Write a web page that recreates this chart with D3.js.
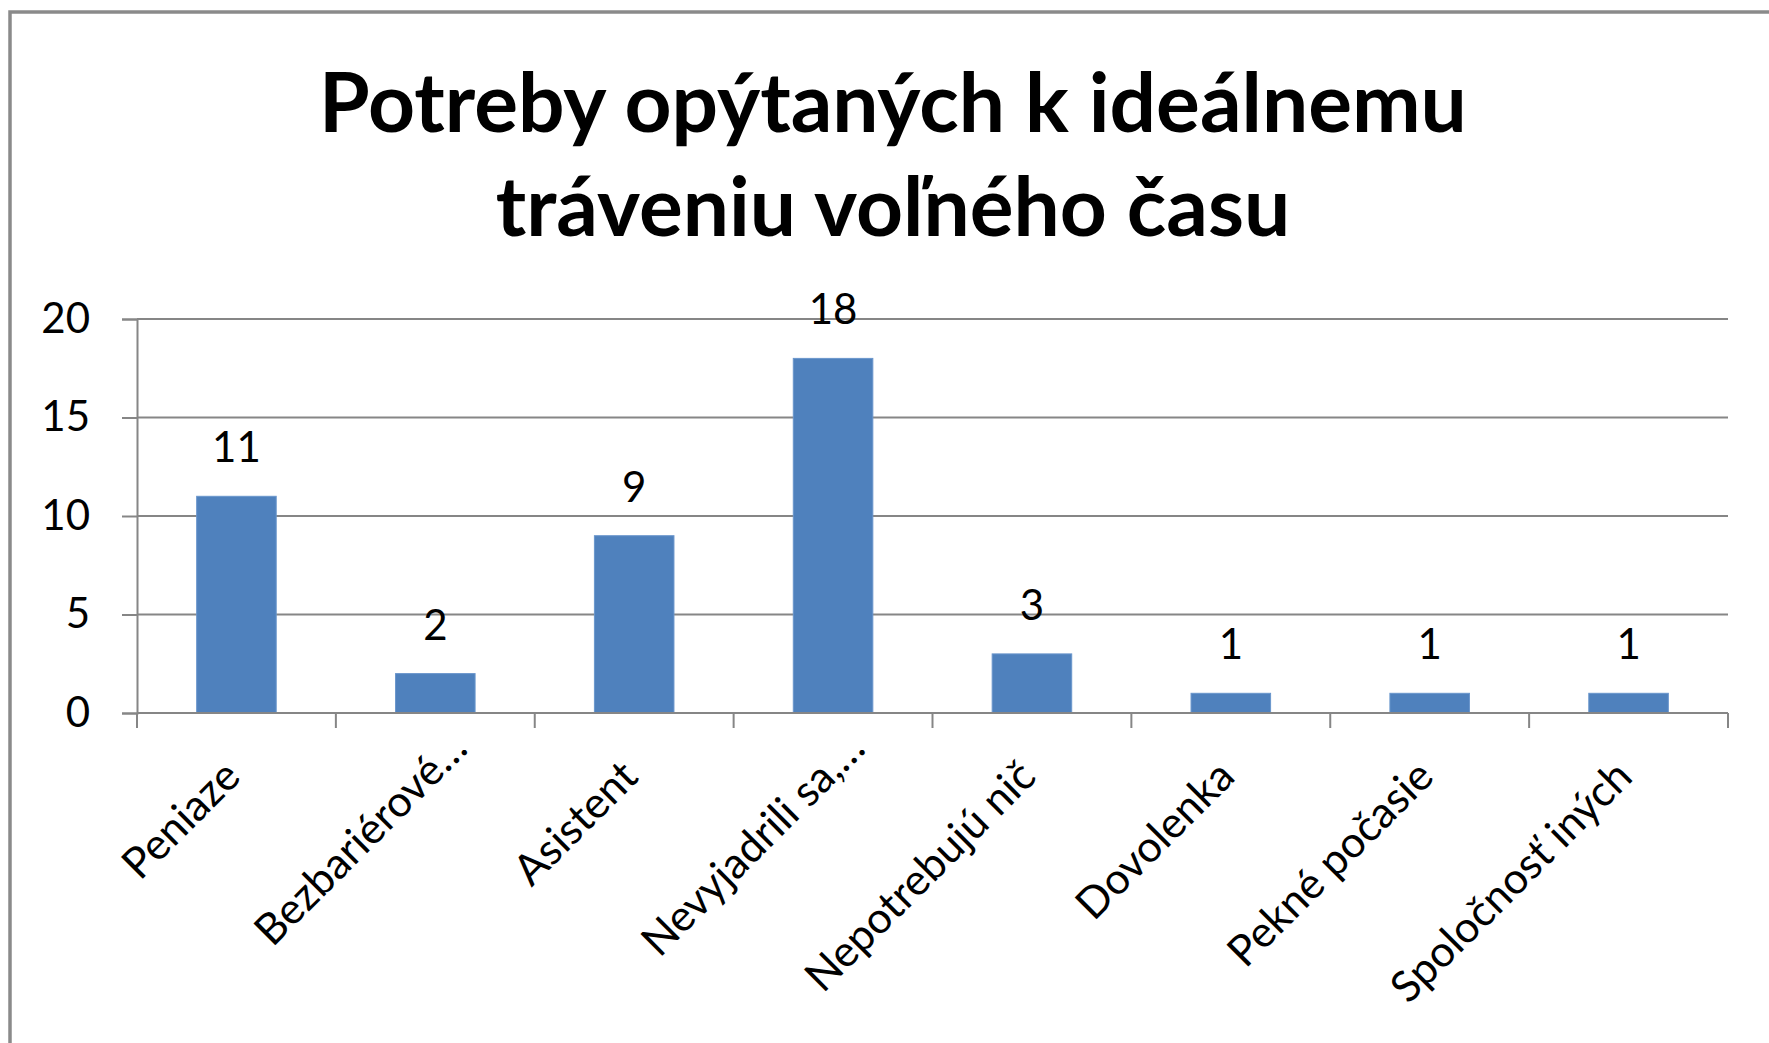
<!DOCTYPE html>
<html>
<head>
<meta charset="utf-8">
<script src="https://cdn.jsdelivr.net/npm/d3@7"></script>
<style>
  body { margin: 0; background: #fff; }
  svg { display: block; }
</style>
</head>
<body>
<div id="chart"></div>
<script>
// data
const categories = ['Peniaze', 'Bezbariérové…', 'Asistent', 'Nevyjadrili sa,…', 'Nepotrebujú nič', 'Dovolenka', 'Pekné počasie', 'Spoločnosť iných'];
const values = [11, 2, 9, 18, 3, 1, 1, 1];
const yTicks = [0, 5, 10, 15, 20];
const titleLines = ['Potreby opýtaných k ideálnemu', 'tráveniu voľného času'];

const width = 1769;
const height = 1043;
const plot = { left: 137, right: 1728, top: 319, bottom: 713 };
const gridColor = '#868686';
const barColor = '#4f81bd';
const font = 'Lato, "Open Sans", sans-serif';

const svg = d3.select('#chart').append('svg')
  .attr('width', width)
  .attr('height', height);

svg.append('rect')
  .attr('width', width)
  .attr('height', height)
  .attr('fill', '#fff');

// chart frame, only left/top edges fall inside the picture
svg.append('rect')
  .attr('x', 10)
  .attr('y', 12)
  .attr('width', width + 40)
  .attr('height', height + 40)
  .attr('fill', 'none')
  .attr('stroke', '#8a8a8a')
  .attr('stroke-width', 3.5);

// title
svg.append('text')
  .attr('x', 893)
  .attr('text-anchor', 'middle')
  .style('font-family', font)
  .style('font-weight', 'bold')
  .style('font-size', '82px')
  .attr('fill', '#000')
  .selectAll('tspan')
  .data(titleLines)
  .enter()
  .append('tspan')
  .attr('x', 893)
  .attr('y', (d, i) => 132 + i * 104)
  .text((d) => d);

const y = d3.scaleLinear()
  .domain([0, 20])
  .range([plot.bottom, plot.top]);

const x = d3.scaleBand()
  .domain(categories)
  .range([plot.left, plot.right])
  .paddingInner(0.6)
  .paddingOuter(0.3);

const edge = d3.scaleLinear()
  .domain([0, categories.length])
  .range([plot.left, plot.right]);

// gridlines
svg.append('g')
  .selectAll('line')
  .data(yTicks)
  .enter()
  .append('line')
  .attr('x1', plot.left)
  .attr('x2', plot.right)
  .attr('y1', (d) => y(d))
  .attr('y2', (d) => y(d))
  .attr('stroke', gridColor)
  .attr('stroke-width', 2);

// y axis
const yAxis = svg.append('g')
  .attr('transform', `translate(${plot.left},0)`)
  .call(d3.axisLeft(y).tickValues(yTicks).tickSize(15).tickPadding(32));

yAxis.select('.domain')
  .attr('stroke', gridColor)
  .attr('stroke-width', 2);
yAxis.selectAll('.tick line')
  .attr('stroke', gridColor)
  .attr('stroke-width', 2);
yAxis.selectAll('.tick text')
  .style('font-family', font)
  .style('font-size', '42px')
  .attr('fill', '#000');

// bars
svg.append('g')
  .selectAll('rect')
  .data(values)
  .enter()
  .append('rect')
  .attr('x', (d, i) => x(categories[i]))
  .attr('y', (d) => y(d))
  .attr('width', x.bandwidth())
  .attr('height', (d) => y(0) - y(d))
  .attr('fill', barColor)
  .attr('stroke', '#6a96cc')
  .attr('stroke-width', 1);

// value labels
svg.append('g')
  .selectAll('text')
  .data(values)
  .enter()
  .append('text')
  .attr('x', (d, i) => x(categories[i]) + x.bandwidth() / 2)
  .attr('y', (d) => y(d) - 34)
  .attr('text-anchor', 'middle')
  .style('font-family', font)
  .style('font-size', '42px')
  .attr('fill', '#000')
  .text((d) => d);

// x axis line and ticks
svg.append('line')
  .attr('x1', plot.left)
  .attr('x2', plot.right)
  .attr('y1', plot.bottom)
  .attr('y2', plot.bottom)
  .attr('stroke', gridColor)
  .attr('stroke-width', 2);

svg.append('g')
  .selectAll('line')
  .data(d3.range(categories.length + 1))
  .enter()
  .append('line')
  .attr('x1', (d) => edge(d))
  .attr('x2', (d) => edge(d))
  .attr('y1', plot.bottom)
  .attr('y2', plot.bottom + 15)
  .attr('stroke', gridColor)
  .attr('stroke-width', 2);

// rotated category labels; truncated ones sit a bit further out, as in the original
svg.append('g')
  .selectAll('text')
  .data(categories)
  .enter()
  .append('text')
  .attr('transform', (d) => `translate(${x(d) + x.bandwidth() / 2 + 6},${plot.bottom + 66}) rotate(-45)`)
  .attr('dx', (d) => (d.endsWith('…') ? 40 : 0))
  .attr('text-anchor', 'end')
  .style('font-family', font)
  .style('font-size', '43px')
  .attr('fill', '#000')
  .text((d) => d);
</script>
</body>
</html>
